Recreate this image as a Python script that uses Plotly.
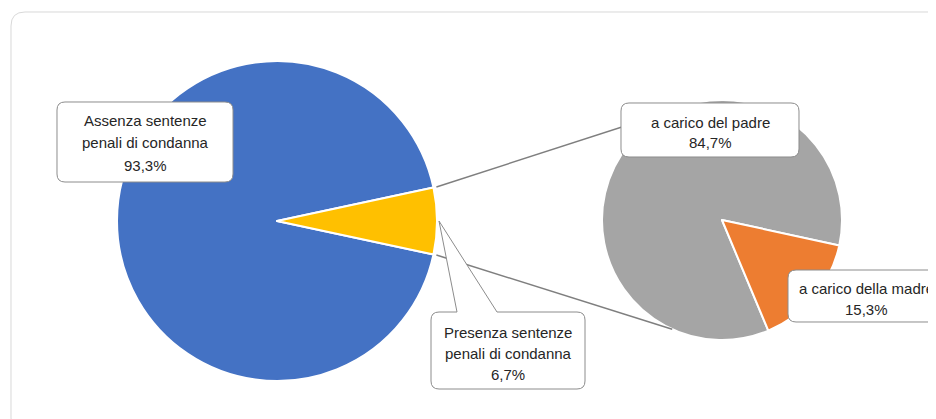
import math
import plotly.graph_objects as go

# ---- data ----
main_labels = ["Assenza sentenze penali di condanna", "Presenza sentenze penali di condanna"]
main_values = [93.3, 6.7]
main_text = ["93,3%", "6,7%"]
sub_labels = ["a carico del padre", "a carico della madre"]
sub_values = [84.7, 15.3]
sub_text = ["84,7%", "15,3%"]

# ---- layout constants (page pixels) ----
PAGE_W, PAGE_H = 936, 419
OFF = 8                      # default body margin of the html page
W, H = PAGE_W - OFF, PAGE_H - OFF
C1, R1 = (277, 221), 160
C2, R2 = (722, 220), 120
FONT = "Liberation Sans, Arial, sans-serif"
TXT = "#262626"
GREY = "#7f7f7f"


def X(x):
    return (x - OFF) / W


def Y(y):
    return 1 - (y - OFF) / H


def P(x, y):
    return f"{X(x):.5f},{Y(y):.5f}"


def rbox(x0, y0, x1, y1, r, wedge=None):
    s = f"M{P(x0 + r, y0)}"
    if wedge:
        b1, ax, ay, b2 = wedge
        s += f" L{P(b1, y0)} L{P(ax, ay)} L{P(b2, y0)}"
    s += (f" L{P(x1 - r, y0)} Q{P(x1, y0)} {P(x1, y0 + r)}"
          f" L{P(x1, y1 - r)} Q{P(x1, y1)} {P(x1 - r, y1)}"
          f" L{P(x0 + r, y1)} Q{P(x0, y1)} {P(x0, y1 - r)}"
          f" L{P(x0, y0 + r)} Q{P(x0, y0)} {P(x0 + r, y0)} Z")
    return s


fig = go.Figure()

half1 = 360 * main_values[1] / sum(main_values) / 2
fig.add_trace(go.Pie(
    labels=main_labels, values=main_values, sort=False, direction="clockwise",
    rotation=90 + half1, textinfo="none", hoverinfo="none", showlegend=False,
    marker=dict(colors=["#4472C4", "#FFC000"], line=dict(color="white", width=2)),
    domain=dict(x=[X(C1[0] - R1), X(C1[0] + R1)], y=[Y(C1[1] + R1), Y(C1[1] - R1)]),
))

fig.add_trace(go.Pie(
    labels=sub_labels, values=sub_values, sort=False, direction="clockwise",
    rotation=157.3, textinfo="none", hoverinfo="none", showlegend=False,
    marker=dict(colors=["#A5A5A5", "#ED7D31"], line=dict(color="white", width=2)),
    domain=dict(x=[X(C2[0] - R2), X(C2[0] + R2)], y=[Y(C2[1] + R2), Y(C2[1] - R2)]),
))

shapes = []
# outer frame
shapes.append(dict(type="path", path=rbox(11, 12, 948, 432, 14), xref="paper", yref="paper",
                   line=dict(color="#d9d9d9", width=1), fillcolor="rgba(0,0,0,0)", layer="below"))

# connector lines between pies
t = math.radians(half1)
a2 = math.radians(114.5)
for sgn in (-1, 1):
    xa = C1[0] + (R1 + 3) * math.cos(t)
    ya = C1[1] + sgn * (R1 + 3) * math.sin(t)
    xb = C2[0] + R2 * math.cos(a2)
    yb = C2[1] + sgn * R2 * math.sin(a2)
    shapes.append(dict(type="line", xref="paper", yref="paper", x0=X(xa), y0=Y(ya), x1=X(xb), y1=Y(yb),
                       line=dict(color=GREY, width=1.5), layer="above"))

box_line = dict(color="#8c8c8c", width=1)
boxes = [
    (57, 102, 233, 182, None),
    (431, 312, 585, 389, (457, C1[0] + R1 + 2, C1[1], 497)),
    (621, 103, 799, 157, None),
    (788, 270, 948, 322, None),
]
for x0, y0, x1, y1, wd in boxes:
    shapes.append(dict(type="path", path=rbox(x0, y0, x1, y1, 8, wd), xref="paper", yref="paper",
                       line=box_line, fillcolor="white", layer="above"))

annotations = []


def add_lines(cx, ys, lines):
    for yy, tx in zip(ys, lines):
        annotations.append(dict(x=X(cx), y=Y(yy), xref="paper", yref="paper", text=tx, showarrow=False,
                                xanchor="center", yanchor="middle",
                                font=dict(family=FONT, size=15, color=TXT)))


add_lines(145, [120, 143, 165], ["Assenza sentenze", "penali di condanna", main_text[0]])
add_lines(508, [332, 353, 374], ["Presenza sentenze", "penali di condanna", main_text[1]])
add_lines(710, [122, 143], [sub_labels[0], sub_text[0]])
add_lines(866, [288, 309], [sub_labels[1], sub_text[1]])

fig.update_layout(
    width=W, height=H, margin=dict(l=0, r=0, t=0, b=0),
    paper_bgcolor="white", plot_bgcolor="white",
    shapes=shapes, annotations=annotations, showlegend=False,
)

fig.write_html("out.html")
